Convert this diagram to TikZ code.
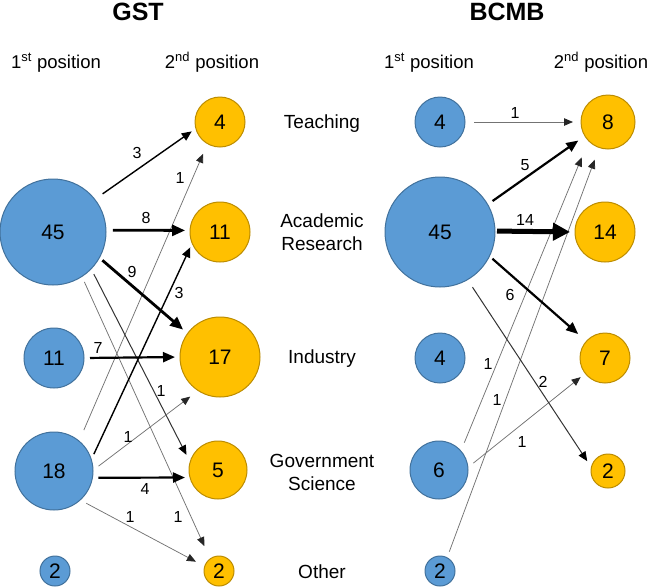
\documentclass[tikz,border=0pt]{standalone}
\usepackage{fontspec}
\setmainfont{Liberation Sans}
\usetikzlibrary{arrows.meta}
\definecolor{bfill}{HTML}{5B9BD5}
\definecolor{bdraw}{HTML}{41719C}
\definecolor{ofill}{HTML}{FFC000}
\definecolor{odraw}{HTML}{BC8C00}
\begin{document}
\begin{tikzpicture}[x=1pt,y=-1pt,
  bnode/.style={circle,fill=bfill,draw=bdraw,line width=1pt,inner sep=0pt,outer sep=0pt,font=\fontsize{21}{21}\selectfont},
  onode/.style={circle,fill=ofill,draw=odraw,line width=1pt,inner sep=0pt,outer sep=0pt,font=\fontsize{21}{21}\selectfont},
  lab/.style={inner sep=0pt,font=\fontsize{16}{16}\selectfont},
  mid/.style={inner sep=0pt,align=center,font=\fontsize{19}{23}\selectfont},
  head/.style={inner sep=0pt,anchor=base,font=\fontsize{18.5}{18.5}\selectfont},
  ttl/.style={inner sep=0pt,font=\bfseries\fontsize{25}{25}\selectfont},
  athin/.style={draw=black!55,line width=0.75pt,-{Triangle[length=9pt,width=7.5pt,color=black!85]}},
  adark/.style={draw=black!80,line width=1pt,-{Triangle[length=9.5pt,width=8pt,color=black]}},
  amed/.style={draw=black,line width=1.4pt,-{Triangle[length=10pt,width=8.5pt]}},
  athick/.style={draw=black,line width=2.2pt,-{Triangle[length=12pt,width=10pt]}},
  athicker/.style={draw=black,line width=2.8pt,-{Triangle[length=13pt,width=11pt]}},
  ahuge/.style={draw=black,line width=5pt,-{Triangle[length=17pt,width=17pt]}}
]
\useasboundingbox (0,0) rectangle (650,587);

% titles and headings
\node[ttl] (tG) at (138,12) {GST};
\node[ttl] (tB) at (507,12) {BCMB};
\node[head] (hG1) at (56,68) {1\textsuperscript{st} position};
\node[head] (hG2) at (212,68) {2\textsuperscript{nd} position};
\node[head] (hB1) at (429,68) {1\textsuperscript{st} position};
\node[head] (hB2) at (601,68) {2\textsuperscript{nd} position};

% middle labels
\node[mid] (mT) at (322,124) {Teaching};
\node[mid] (mA) at (322,232) {Academic\\Research};
\node[mid] (mI) at (322,359) {Industry};
\node[mid] (mG) at (322,472) {Government\\Science};
\node[mid] (mO) at (322,572) {Other};

% GST nodes
\node[bnode,minimum size=106pt] (gA45) at (53,232) {45};
\node[bnode,minimum size=60pt] (gA11) at (54,358) {11};
\node[bnode,minimum size=78pt] (gA18) at (54,471) {18};
\node[bnode,minimum size=30pt] (gA2) at (55,571) {2};
\node[onode,minimum size=50pt] (gB4) at (220,122) {4};
\node[onode,minimum size=60pt] (gB11) at (220,232) {11};
\node[onode,minimum size=80pt] (gB17) at (220,357) {17};
\node[onode,minimum size=58pt] (gB5) at (218,470) {5};
\node[onode,minimum size=30pt] (gB2) at (219,571) {2};

% BCMB nodes
\node[bnode,minimum size=50pt] (bA4) at (440,122) {4};
\node[bnode,minimum size=110pt] (bA45) at (440,232) {45};
\node[bnode,minimum size=50pt] (bA4i) at (440,358) {4};
\node[bnode,minimum size=58pt] (bA6) at (439,470) {6};
\node[bnode,minimum size=30pt] (bA2) at (440,571) {2};
\node[onode,minimum size=54pt] (bB8) at (608,122) {8};
\node[onode,minimum size=60pt] (bB14) at (605,232) {14};
\node[onode,minimum size=50pt] (bB7) at (605,358) {7};
\node[onode,minimum size=34pt] (bB2) at (608,471) {2};

% GST connectors
\draw[athin,shorten <=12pt,shorten >=11pt] (gA18.50) -- (gB4.240);
\draw[athin,shorten <=6pt,shorten >=14pt] (gA45.-57) -- (gB2.126);
\draw[adark,shorten <=6pt,shorten >=8pt] (gA45.-44) -- (gB5.164);
\draw[athin,shorten <=7pt,shorten >=10pt] (gA18.1) -- (gB17.237);
\draw[athin,shorten <=7pt,shorten >=10pt] (gA18.-48) -- (gB2.162);
\draw[amed,shorten <=9.6pt,shorten >=5pt] (gA45.38.5) -- (gB4.195);
\draw[athicker,shorten <=7pt,shorten >=5pt] (gA45.2) -- (gB11.177);
\draw[athicker,shorten <=4pt,shorten >=6pt] (gA45.-29) -- (gB17.144);
\draw[athick,shorten <=6pt,shorten >=5pt] (gA11.0) -- (gB17.180);
\draw[amed,shorten <=6pt,shorten >=4.5pt] (gA18.17) -- (gB11.202);
\draw[athick,shorten <=6pt,shorten >=5pt] (gA18.-10) -- (gB5.195);

\node[lab] (l1) at (137,153) {3};
\node[lab] (l2) at (180,178) {1};
\node[lab] (l3) at (146,218) {8};
\node[lab] (l4) at (132,272) {9};
\node[lab] (l5) at (179,293) {3};
\node[lab] (l6) at (98,348) {7};
\node[lab] (l7) at (161,391) {1};
\node[lab] (l8) at (128,437) {1};
\node[lab] (l9) at (145,489) {4};
\node[lab] (l10) at (130,517) {1};
\node[lab] (l11) at (178,517) {1};

% BCMB connectors
\draw[athin,shorten <=9pt,shorten >=8pt] (bA4.0) -- (bB8.180);
\draw[athin,shorten <=9pt,shorten >=18pt] (bA6.41) -- (bB8.224);
\draw[athin,shorten <=6.5pt,shorten >=13pt] (bA2.62) -- (bB8.251);
\draw[athin,shorten <=7pt,shorten >=6pt] (bA6.5) -- (bB7.218);
\draw[adark,shorten <=9pt,shorten >=7.5pt] (bA45.-60) -- (bB2.168);
\draw[athick,shorten <=6pt,shorten >=8pt] (bA45.30) -- (bB8.211);
\draw[ahuge,shorten <=2pt,shorten >=5pt] (bA45.1) -- (bB14.180);
\draw[athick,shorten <=4pt,shorten >=11pt] (bA45.-26) -- (bB7.138);

\node[lab] (k1) at (515,113) {1};
\node[lab] (k2) at (525,165) {5};
\node[lab] (k3) at (525,220) {14};
\node[lab] (k4) at (510,295) {6};
\node[lab] (k5) at (543,382) {2};
\node[lab] (k6) at (488,364) {1};
\node[lab] (k7) at (497,400) {1};
\node[lab] (k8) at (522,442) {1};
\end{tikzpicture}
\end{document}
